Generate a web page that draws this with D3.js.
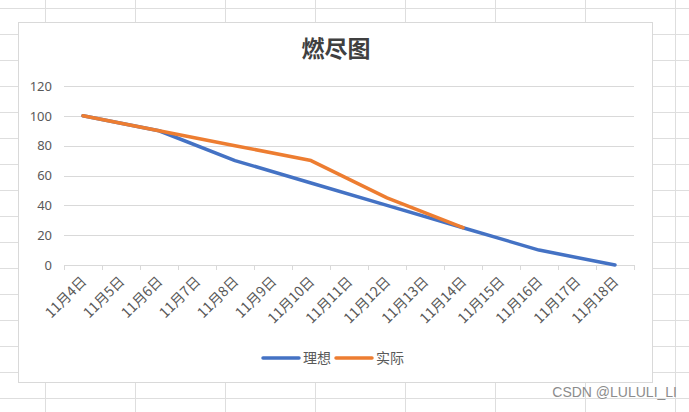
<!DOCTYPE html>
<html><head><meta charset="utf-8">
<script src="https://cdn.jsdelivr.net/npm/d3@7"></script>
<style>
html,body{margin:0;padding:0;background:#fff;}
svg{display:block;}
text{font-family:"Noto Sans CJK SC","Noto Sans",sans-serif;}
</style></head>
<body>
<script>
const categories = ["11月4日","11月5日","11月6日","11月7日","11月8日","11月9日","11月10日","11月11日","11月12日","11月13日","11月14日","11月15日","11月16日","11月17日","11月18日"];
const idealValues  = [100, null, 90, null, 70, null, 55, null, 40, null, 25, null, 10, null, 0];
const actualValues = [100, null, 90, null, 80, null, 70, null, 45, null, 25, null, null, null, null];
const yTicks = [0, 20, 40, 60, 80, 100, 120];
const seriesNames = ["理想", "实际"];
const colors = ["#4472C4", "#ED7D31"];
const title = "燃尽图";
const watermark = "CSDN @LULULI_LI";

const W = 689, H = 412;
const svg = d3.select("body").append("svg").attr("width", W).attr("height", H);

// Excel sheet grid background
const bg = svg.append("g").attr("stroke", "#dedede").attr("stroke-width", 1);
d3.range(45, W, 90).forEach(x => bg.append("line").attr("x1", x + 0.5).attr("x2", x + 0.5).attr("y1", 0).attr("y2", H));
d3.range(7.5, H, 26).forEach(y => bg.append("line").attr("x1", 0).attr("x2", W).attr("y1", Math.round(y) + 0.5).attr("y2", Math.round(y) + 0.5));

// chart area
svg.append("rect").attr("x", 18.5).attr("y", 22.5).attr("width", 634).attr("height", 360)
  .attr("fill", "#fff").attr("stroke", "#d9d9d9");

svg.append("text").attr("x", 336).attr("y", 57).attr("text-anchor", "middle")
  .attr("font-size", 23).attr("font-weight", "bold").attr("fill", "#404040").text(title);

const x = d3.scaleBand().domain(categories).range([64, 634]);
const y = d3.scaleLinear().domain([0, 120]).range([265, 86]);

// y axis + gridlines
const yAxis = svg.append("g").attr("transform", "translate(64,0)")
  .call(d3.axisLeft(y).tickValues(yTicks).tickSize(-570).tickPadding(12));
yAxis.select(".domain").remove();
yAxis.selectAll(".tick line").attr("stroke", "#d9d9d9").attr("shape-rendering", "crispEdges");
yAxis.selectAll(".tick text").attr("fill", "#595959").attr("font-size", 13)
  .style("font-family", '"Noto Sans","DejaVu Sans",sans-serif');

// x axis
const xg = svg.append("g");
xg.append("line").attr("x1", 64).attr("x2", 634).attr("y1", y(0) + 0.5).attr("y2", y(0) + 0.5)
  .attr("stroke", "#d9d9d9");
const bounds = categories.map(c => x(c)).concat([x(categories[categories.length - 1]) + x.bandwidth()]);
xg.selectAll("line.tk").data(bounds).join("line").attr("class", "tk")
  .attr("x1", d => Math.round(d) + 0.5).attr("x2", d => Math.round(d) + 0.5)
  .attr("y1", y(0)).attr("y2", y(0) + 5).attr("stroke", "#d9d9d9");
xg.selectAll("text").data(categories).join("text")
  .attr("transform", d => `translate(${x(d) + x.bandwidth() / 2 + 1},${y(0) + 14}) rotate(-45)`)
  .attr("text-anchor", "end").attr("dy", "0.35em")
  .attr("font-size", 14).attr("fill", "#595959").text(d => d);

// lines
const series = [idealValues, actualValues];
const line = d3.line()
  .x(d => x(d.c) + x.bandwidth() / 2)
  .y(d => y(d.v))
  .curve(d3.curveLinear);
series.forEach((vals, i) => {
  const pts = categories.map((c, j) => ({c, v: vals[j]})).filter(d => d.v !== null);
  svg.append("path").datum(pts).attr("d", line).attr("fill", "none")
    .attr("stroke", colors[i]).attr("stroke-width", 3.5).attr("stroke-linecap", "round").attr("stroke-linejoin", "round");
});

// legend
const lg = svg.append("g");
let lx = 263;
seriesNames.forEach((n, i) => {
  lg.append("line").attr("x1", lx).attr("x2", lx + 36).attr("y1", 358).attr("y2", 358)
    .attr("stroke", colors[i]).attr("stroke-width", 3.5).attr("stroke-linecap", "round");
  lg.append("text").attr("x", lx + 40).attr("y", 358).attr("dy", "0.35em")
    .attr("font-size", 14).attr("fill", "#595959").text(n);
  lx += 73;
});

svg.append("text").attr("x", 677).attr("y", 397).attr("text-anchor", "end")
  .attr("font-size", 14).attr("fill", "#8c8c8c").style("font-family", '"Liberation Sans",sans-serif')
  .text(watermark);
</script>
</body></html>
